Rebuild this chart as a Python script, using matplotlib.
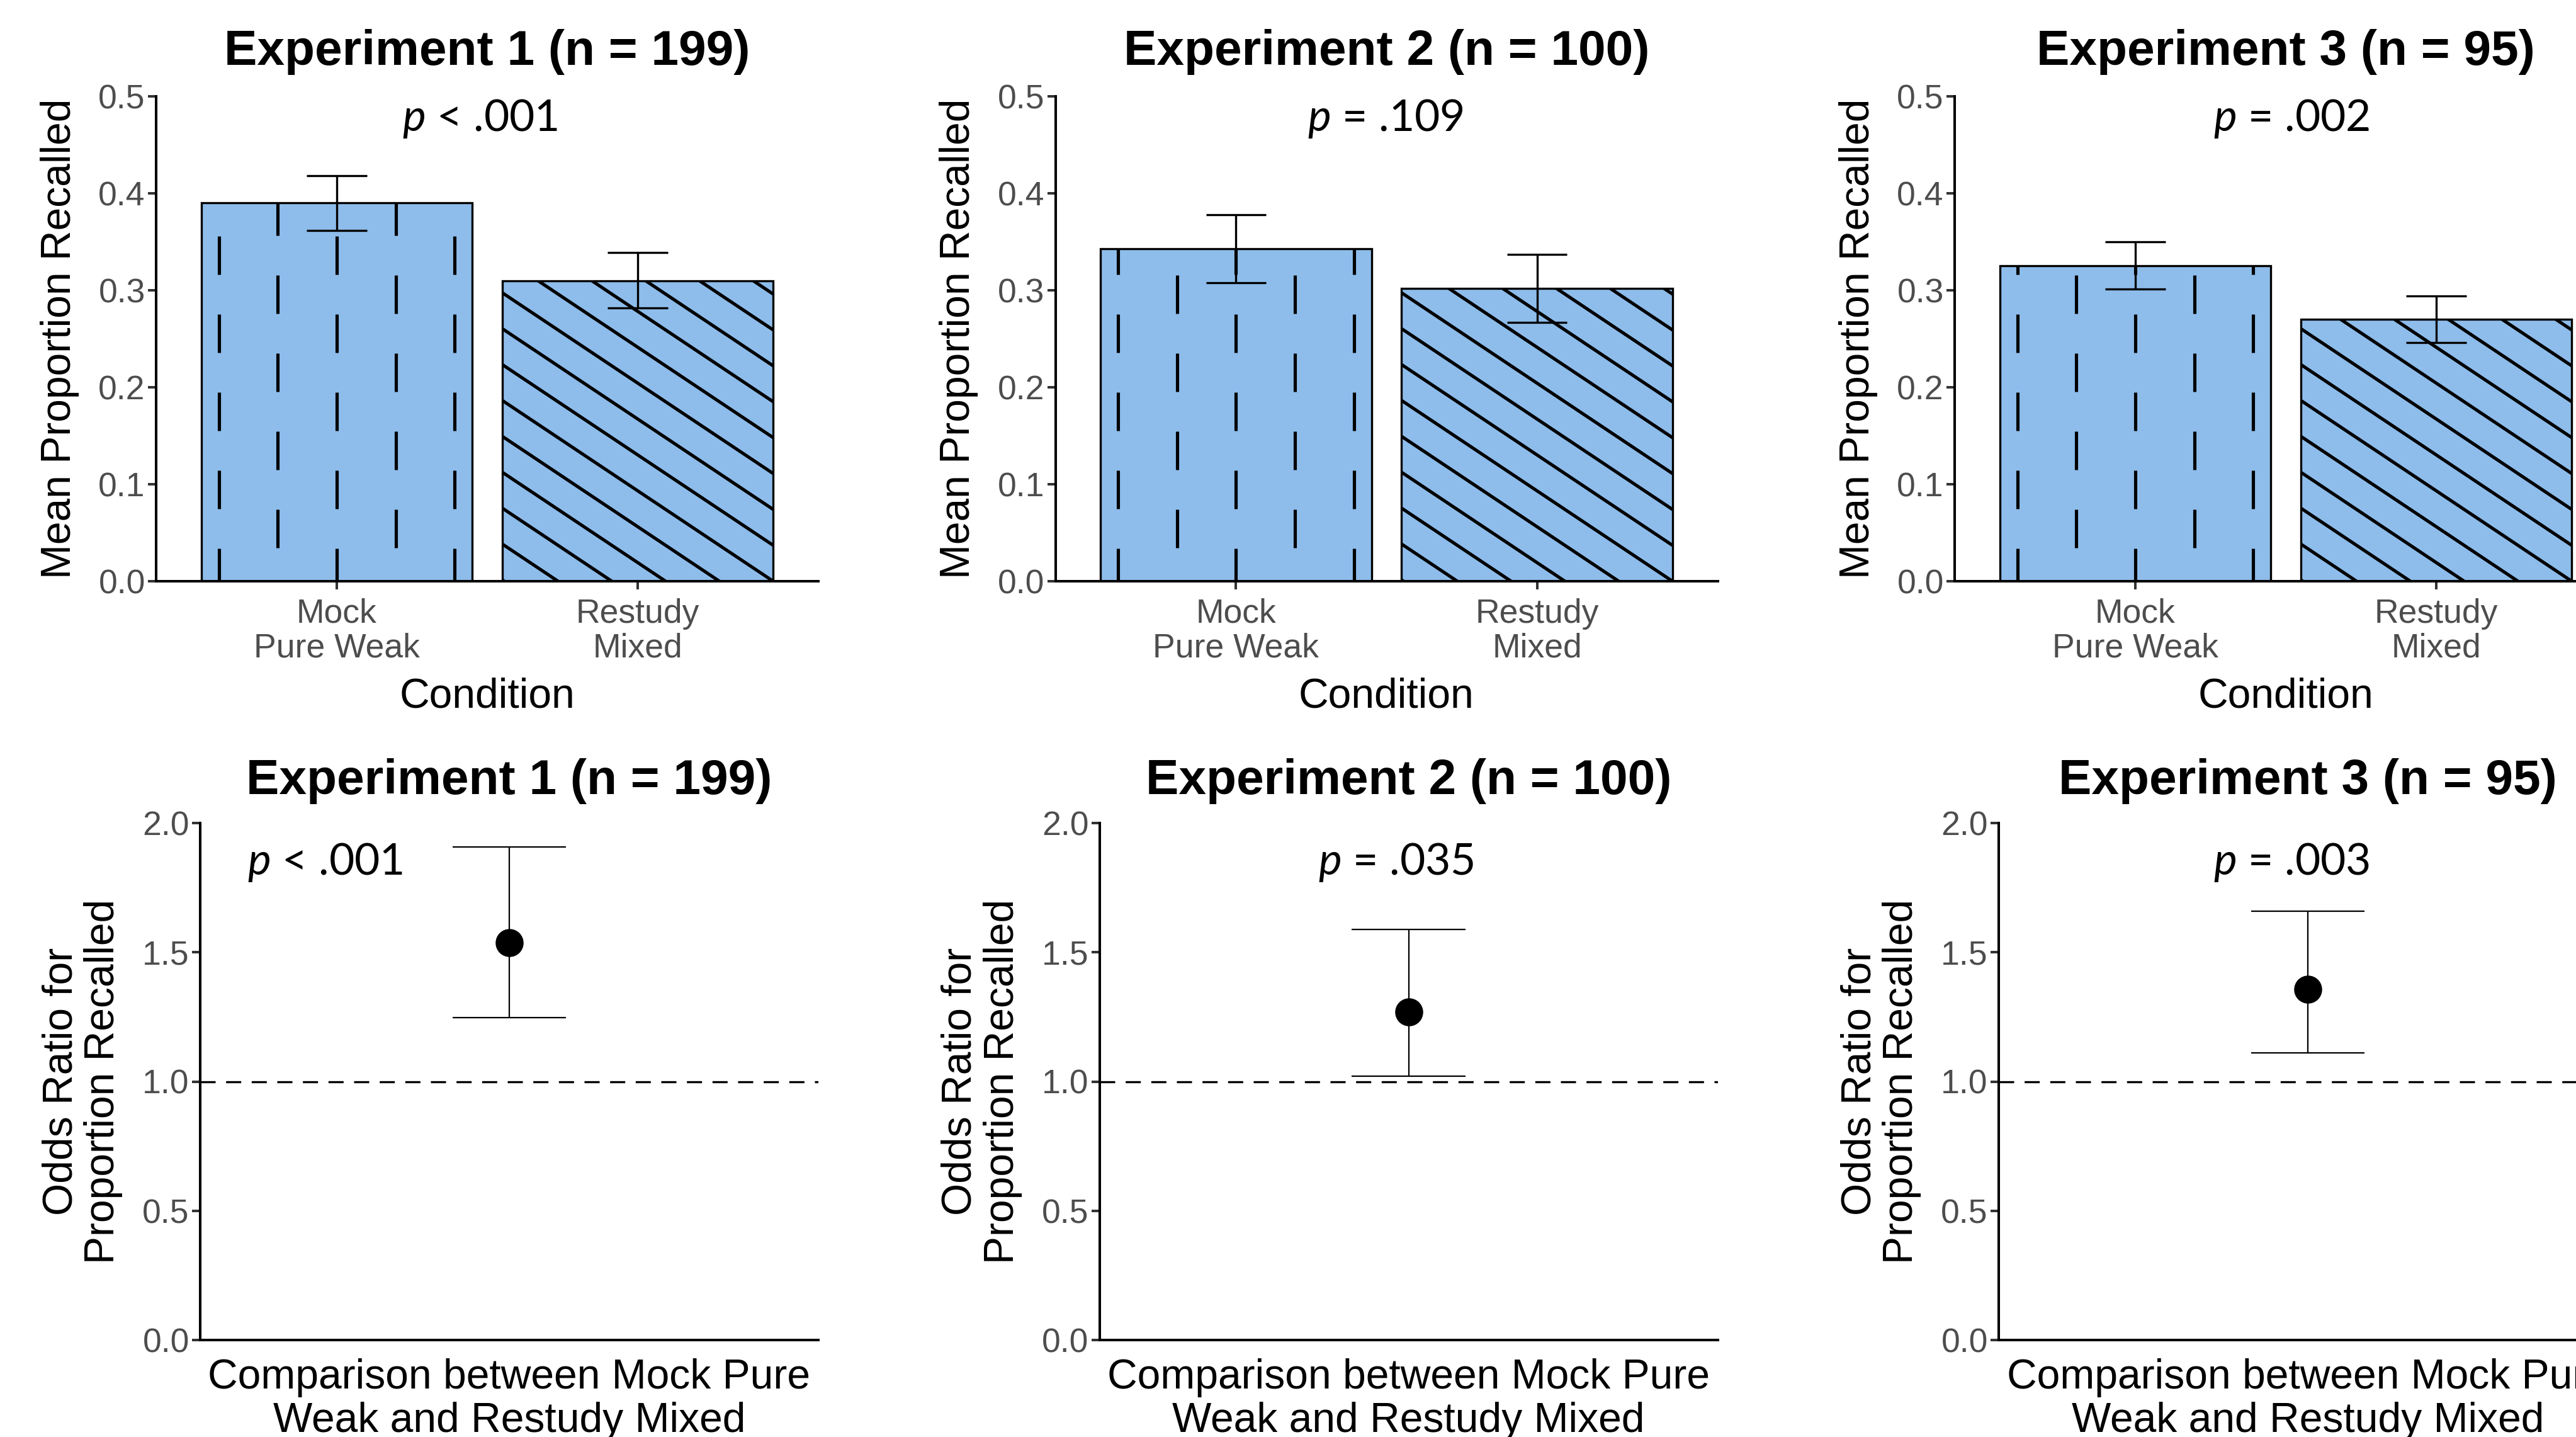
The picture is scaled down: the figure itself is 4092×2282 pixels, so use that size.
import numpy as np
import matplotlib
matplotlib.use("Agg")
import matplotlib.pyplot as plt
from matplotlib.collections import LineCollection

W, H, DPI = 4092, 2282, 100

# data
experiments = ["Experiment 1 (n = 199)", "Experiment 2 (n = 100)", "Experiment 3 (n = 95)"]
conditions = ["Mock\nPure Weak", "Restudy\nMixed"]
mean_recall = [[0.390, 0.310], [0.343, 0.302], [0.325, 0.270]]
recall_lo = [[0.362, 0.282], [0.308, 0.267], [0.301, 0.246]]
recall_hi = [[0.418, 0.339], [0.378, 0.337], [0.350, 0.294]]
recall_p = ["$p$ < .001", "$p$ = .109", "$p$ = .002"]
recall_p_x = [1.475, 1.497, 1.52]

odds_ratio = [1.538, 1.269, 1.357]
odds_lo = [1.248, 1.021, 1.111]
odds_hi = [1.907, 1.588, 1.660]
odds_p = ["$p$ < .001", "$p$ = .035", "$p$ = .003"]
odds_p_x = [0.643, 0.976, 0.968]

bar_fill = "#8EBDEB"
tick_grey = "#4D4D4D"

plt.rcParams["font.family"] = ["Liberation Sans", "DejaVu Sans"]
plt.rcParams["mathtext.fontset"] = "custom"
plt.rcParams["mathtext.it"] = "Lato:italic"
plt.rcParams["mathtext.rm"] = "Lato"

fig = plt.figure(figsize=(W / DPI, H / DPI), dpi=DPI)


def add_px_axes(left, top, right, bottom):
    return fig.add_axes([left / W, 1 - bottom / H, (right - left) / W, (bottom - top) / H])


def style_axes(ax):
    for s in ["top", "right"]:
        ax.spines[s].set_visible(False)
    for s in ["left", "bottom"]:
        ax.spines[s].set_linewidth(2.9)
        ax.spines[s].set_color("black")
    ax.tick_params(axis="both", length=9.4, width=2.9, color="#333333",
                   labelsize=38.5, labelcolor=tick_grey, pad=3)


def dashed_columns(ax, bar):
    # vertical dashed stripes, clipped to the bar
    xc = bar.get_x() + bar.get_width() / 2
    cx, base = ax.transData.transform((xc, 0))
    inv = ax.transData.inverted()
    segs = []
    for k in range(-3, 4):
        x = cx + k * 93.6
        phase = -9 if k % 2 == 0 else 53
        for n in range(-1, 12):
            y0 = base + phase + n * 124
            segs.append(inv.transform([(x, y0), (x, y0 + 61)]))
    lc = LineCollection(segs, colors="black", linewidths=3.7, zorder=2.5, capstyle="butt")
    ax.add_collection(lc)
    lc.set_clip_path(bar)


def diagonal_stripes(ax, bar):
    # stripes running down to the right, clipped to the bar
    rx, by = ax.transData.transform((bar.get_x() + bar.get_width(), 0))
    inv = ax.transData.inverted()
    segs = []
    for m in range(-5, 40):
        x0, x1 = rx - 1200, rx + 100
        y0 = by + m * 57 + 0.667 * 1200
        y1 = by + m * 57 - 0.667 * 100
        segs.append(inv.transform([(x0, y0), (x1, y1)]))
    lc = LineCollection(segs, colors="black", linewidths=3.7, zorder=2.5, capstyle="butt")
    ax.add_collection(lc)
    lc.set_clip_path(bar)


col_step = 1428.5
xpos = np.arange(1, len(conditions) + 1)

for i in range(3):
    # ---- top row: bar chart of mean proportion recalled
    left = 248 + i * col_step
    ax = add_px_axes(left, 153, left + 1052, 923)
    style_axes(ax)
    ax.set_xlim(0.4, 2.6)
    ax.set_ylim(0, 0.5)
    bars = ax.bar(xpos, mean_recall[i], width=0.9, color=bar_fill, edgecolor="none", zorder=2)
    dashed_columns(ax, bars[0])
    diagonal_stripes(ax, bars[1])
    ax.bar(xpos, mean_recall[i], width=0.9, fill=False, edgecolor="black", linewidth=2.4, zorder=3)
    ax.vlines(xpos, recall_lo[i], recall_hi[i], color="black", lw=2.4, zorder=4)
    ax.hlines(recall_lo[i] + recall_hi[i], list(xpos - 0.1) * 2, list(xpos + 0.1) * 2,
              color="black", lw=2.4, zorder=4)
    ax.set_yticks(np.arange(0, 0.51, 0.1))
    ax.set_yticklabels([f"{v:.1f}" for v in np.arange(0, 0.51, 0.1)])
    ax.set_xticks(xpos)
    ax.set_xticklabels(conditions, linespacing=1.12)
    ax.tick_params(axis="x", pad=10)
    ax.set_xlabel("Condition", fontsize=47.5)
    ax.xaxis.set_label_coords(0.5, -0.198)
    ax.set_ylabel("Mean Proportion Recalled", fontsize=47.5)
    ax.yaxis.set_label_coords(-0.116, 0.5)
    ax.text(0.5, 1.092, experiments[i], transform=ax.transAxes, ha="center", va="center",
            fontsize=56.5, fontweight="bold")
    ax.text(recall_p_x[i], 0.4643, recall_p[i], ha="center", va="baseline", fontsize=50,
            family="Lato")

    # ---- bottom row: odds ratio with CI
    left = 318 + i * col_step
    ax = add_px_axes(left, 1307, left + 982, 2128)
    style_axes(ax)
    ax.set_xlim(0.4, 1.6)
    ax.set_ylim(0, 2.0)
    ax.axhline(1.0, color="black", lw=2.4, ls=(0, (7.2, 5.0)), zorder=1)
    ax.vlines(1, odds_lo[i], odds_hi[i], color="black", lw=1.6, zorder=3)
    ax.hlines([odds_lo[i], odds_hi[i]], 1 - 0.11, 1 + 0.11, color="black", lw=1.6, zorder=3)
    ax.plot([1], [odds_ratio[i]], "o", color="black", markersize=31, zorder=4)
    ax.set_xticks([])
    ax.set_yticks(np.arange(0, 2.01, 0.5))
    ax.set_yticklabels([f"{v:.1f}" for v in np.arange(0, 2.01, 0.5)])
    ax.set_xlabel("Comparison between Mock Pure\nWeak and Restudy Mixed", fontsize=47.5,
                  linespacing=1.15)
    ax.xaxis.set_label_coords(0.5, -0.035)
    ax.set_ylabel("Odds Ratio for\nProportion Recalled", fontsize=47.5, linespacing=1.1)
    ax.yaxis.set_label_coords(-0.125, 0.5)
    ax.text(0.5, 1.0816, experiments[i], transform=ax.transAxes, ha="center", va="center",
            fontsize=56.5, fontweight="bold")
    ax.text(odds_p_x[i], 1.80, odds_p[i], ha="center", va="baseline", fontsize=50,
            family="Lato")

fig.savefig("out.png", dpi=DPI)
